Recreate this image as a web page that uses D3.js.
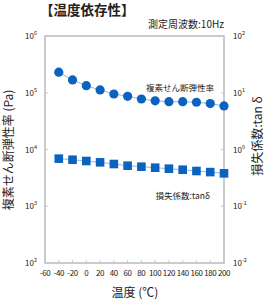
<!DOCTYPE html>
<html>
<head>
<meta charset="utf-8">
<script src="https://cdn.jsdelivr.net/npm/d3@7"></script>
<style>
body { margin: 0; background: #fff; }
text { font-family: "Noto Sans CJK JP", "Noto Sans", sans-serif; fill: #222; }
</style>
</head>
<body>
<script>
var temps = [-40, -20, 0, 20, 40, 60, 80, 100, 120, 140, 160, 180, 200];
var modulus = [230000, 168000, 133000, 112000, 95000, 86500, 77600, 72000, 69500, 69500, 68000, 64500, 58500];
var tanDelta = [0.69, 0.66, 0.627, 0.594, 0.555, 0.518, 0.498, 0.478, 0.459, 0.44, 0.418, 0.40, 0.38];
var xTicks = [-60, -40, -20, 0, 20, 40, 60, 80, 100, 120, 140, 160, 180, 200];
var leftTicks = [2, 3, 4, 5, 6];
var rightTicks = [-2, -1, 0, 1, 2];

var svg = d3.select("body").append("svg")
            .attr("width", 272)
            .attr("height", 300);

var x = d3.scaleLinear().domain([-60, 200]).range([45, 224]);
var yL = d3.scaleLog().domain([100, 1e6]).range([263, 36]);
var yR = d3.scaleLog().domain([0.01, 100]).range([263, 36]);

var blue = "#0b63bf";

// frame
svg.append("rect")
   .attr("x", 45).attr("y", 36)
   .attr("width", 179).attr("height", 227)
   .attr("fill", "none")
   .attr("stroke", "#a8a8a8")
   .attr("stroke-width", 1.2);

// x ticks (inside)
svg.selectAll(".xt").data(xTicks).enter().append("line")
   .attr("x1", d => x(d)).attr("x2", d => x(d))
   .attr("y1", 263).attr("y2", 260)
   .attr("stroke", "#c8c8c8");

svg.selectAll(".xl").data(xTicks).enter().append("text")
   .attr("x", d => x(d)).attr("y", 276)
   .attr("text-anchor", "middle")
   .attr("font-size", 8)
   .attr("letter-spacing", -0.4)
   .text(d => d);

// y ticks
svg.selectAll(".ylt").data(leftTicks).enter().append("line")
   .attr("x1", 45).attr("x2", 48)
   .attr("y1", d => yL(Math.pow(10, d))).attr("y2", d => yL(Math.pow(10, d)))
   .attr("stroke", "#c8c8c8");

svg.selectAll(".yrt").data(rightTicks).enter().append("line")
   .attr("x1", 221).attr("x2", 224)
   .attr("y1", d => yR(Math.pow(10, d))).attr("y2", d => yR(Math.pow(10, d)))
   .attr("stroke", "#c8c8c8");

function powLabel(sel, anchorX, anchor) {
  sel.each(function(d) {
    var t = d3.select(this);
    t.append("tspan").attr("font-size", 8).text("10");
    t.append("tspan").attr("font-size", 5.5).attr("dy", -4).text(d);
  });
}

svg.selectAll(".yll").data(leftTicks).enter().append("text")
   .attr("x", 37).attr("y", d => yL(Math.pow(10, d)) + 3)
   .attr("text-anchor", "end")
   .call(powLabel);

svg.selectAll(".yrl").data(rightTicks).enter().append("text")
   .attr("x", 233).attr("y", d => yR(Math.pow(10, d)) + 3)
   .attr("text-anchor", "start")
   .call(powLabel);

// series lines
var lineL = d3.line().x((d, i) => x(temps[i])).y(d => yL(d));
var lineR = d3.line().x((d, i) => x(temps[i])).y(d => yR(d));

svg.append("path").attr("d", lineL(modulus))
   .attr("fill", "none").attr("stroke", "#8fb8e4").attr("stroke-width", 1);
svg.append("path").attr("d", lineR(tanDelta))
   .attr("fill", "none").attr("stroke", "#8fb8e4").attr("stroke-width", 1);

svg.selectAll(".dot").data(modulus).enter().append("circle")
   .attr("cx", (d, i) => x(temps[i]))
   .attr("cy", d => yL(d))
   .attr("r", 4.6)
   .attr("fill", blue);

svg.selectAll(".sq").data(tanDelta).enter().append("rect")
   .attr("x", (d, i) => x(temps[i]) - 4.3)
   .attr("y", d => yR(d) - 4.3)
   .attr("width", 8.6).attr("height", 8.6)
   .attr("fill", blue);

// annotations
svg.append("text").attr("x", 214).attr("y", 91)
   .attr("text-anchor", "end").attr("font-size", 8.5)
   .text("複素せん断弾性率");

svg.append("text").attr("x", 210).attr("y", 199)
   .attr("text-anchor", "end").attr("font-size", 8.5)
   .text("損失係数:tanδ");

// title
svg.append("text").attr("x", 40).attr("y", 15)
   .attr("font-size", 13.5).attr("font-weight", "bold")
   .text("【温度依存性】");

svg.append("text").attr("x", 224).attr("y", 28)
   .attr("text-anchor", "end").attr("font-size", 10)
   .text("測定周波数:10Hz");

// axis titles
svg.append("text").attr("x", 135).attr("y", 297)
   .attr("text-anchor", "middle").attr("font-size", 12)
   .text("温度 (℃)");

svg.append("text")
   .attr("transform", "translate(13,150) rotate(-90)")
   .attr("text-anchor", "middle").attr("font-size", 12)
   .text("複素せん断弾性率 (Pa)");

svg.append("text")
   .attr("transform", "translate(262,136) rotate(-90)")
   .attr("text-anchor", "middle").attr("font-size", 12)
   .text("損失係数:tan δ");
</script>
</body>
</html>
